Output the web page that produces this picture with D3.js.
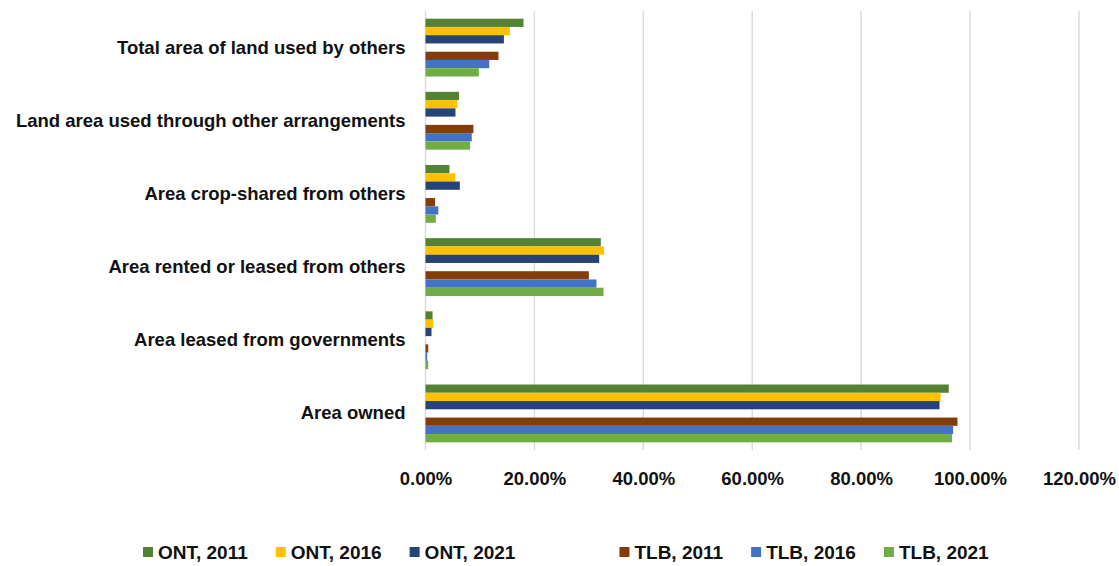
<!DOCTYPE html>
<html>
<head>
<meta charset="utf-8">
<script src="https://cdn.jsdelivr.net/npm/d3@7"></script>
<style>
  html, body { margin: 0; padding: 0; background: #fff; }
  svg text { font-family: "Liberation Sans", Arial, sans-serif; font-weight: bold; fill: #111; }
</style>
</head>
<body>
<svg id="chart" width="1119" height="566"></svg>
<script>
// ---- data ----
const categories = [
  "Total area of land used by others",
  "Land area used through other arrangements",
  "Area crop-shared from others",
  "Area rented or leased from others",
  "Area leased from governments",
  "Area owned"
];
const seriesNames = ["ONT, 2011", "ONT, 2016", "ONT, 2021", "", "TLB, 2011", "TLB, 2016", "TLB, 2021"];
const seriesColors = ["#548235", "#FFC000", "#264478", "none", "#843C0C", "#4472C4", "#70AD47"];
const ont2011 = [0.180, 0.0615, 0.044, 0.322, 0.013, 0.961];
const ont2016 = [0.155, 0.0585, 0.055, 0.328, 0.0145, 0.946];
const ont2021 = [0.144, 0.055, 0.063, 0.319, 0.011, 0.944];
const blank   = [null, null, null, null, null, null];
const tlb2011 = [0.134, 0.088, 0.0175, 0.300, 0.005, 0.977];
const tlb2016 = [0.117, 0.085, 0.0235, 0.314, 0.003, 0.969];
const tlb2021 = [0.098, 0.082, 0.019, 0.327, 0.005, 0.967];
const seriesValues = [ont2011, ont2016, ont2021, blank, tlb2011, tlb2016, tlb2021];
const xTicks = [0, 0.2, 0.4, 0.6, 0.8, 1.0, 1.2];

// ---- layout ----
const svg = d3.select("#chart");
const plot = { left: 425.5, right: 1078.9, top: 11, bottom: 450 };

const x = d3.scaleLinear().domain([0, 1.2]).range([plot.left, plot.right]);
const y0 = d3.scaleBand().domain(categories).range([plot.top, plot.bottom])
  .paddingInner(0.21).paddingOuter(0.105);
const y1 = d3.scaleBand().domain(d3.range(seriesNames.length)).range([0, y0.bandwidth()]).padding(0);

// gridlines
svg.append("g").selectAll("line").data(xTicks).join("line")
  .attr("x1", d => x(d)).attr("x2", d => x(d))
  .attr("y1", plot.top).attr("y2", plot.bottom)
  .attr("stroke", "#d9d9d9").attr("stroke-width", 1.4);

// bars
const rows = [];
categories.forEach((c, ci) => {
  seriesValues.forEach((vals, si) => {
    if (vals[ci] != null) rows.push({ c, si, v: vals[ci] });
  });
});
svg.append("g").selectAll("rect").data(rows).join("rect")
  .attr("x", x(0))
  .attr("y", d => y0(d.c) + y1(d.si))
  .attr("width", d => x(d.v) - x(0))
  .attr("height", y1.bandwidth())
  .attr("fill", d => seriesColors[d.si]);

// x axis labels
const xAxis = d3.axisBottom(x).tickValues(xTicks).tickFormat(d => (d * 100).toFixed(2) + "%").tickSize(0).tickPadding(0);
const gx = svg.append("g").attr("transform", `translate(0,${plot.bottom})`).call(xAxis);
gx.select(".domain").remove();
gx.selectAll("text").attr("dy", null).attr("y", 35).style("font-size", "18.5px")
  .style("font-family", "'Liberation Sans', Arial, sans-serif").style("font-weight", "bold").attr("fill", "#111");

// y axis labels
const yAxis = d3.axisLeft(y0).tickSize(0).tickPadding(20);
const gy = svg.append("g").attr("transform", `translate(${plot.left},0)`).call(yAxis);
gy.select(".domain").remove();
gy.selectAll("text").style("font-size", "18.5px")
  .style("font-family", "'Liberation Sans', Arial, sans-serif").style("font-weight", "bold").attr("fill", "#111");

// legend
const legend = svg.append("g").attr("transform", "translate(0,552)");
let lx = 143;
seriesNames.forEach((name, i) => {
  if (name === "") { lx += 76; return; }
  legend.append("rect").attr("x", lx).attr("y", -5).attr("width", 10).attr("height", 10).attr("fill", seriesColors[i]);
  const t = legend.append("text").attr("x", lx + 15).attr("y", 0).attr("dy", "0.35em")
    .style("font-size", "19px").text(name);
  lx += 15 + t.node().getComputedTextLength() + 28;
});
</script>
</body>
</html>
